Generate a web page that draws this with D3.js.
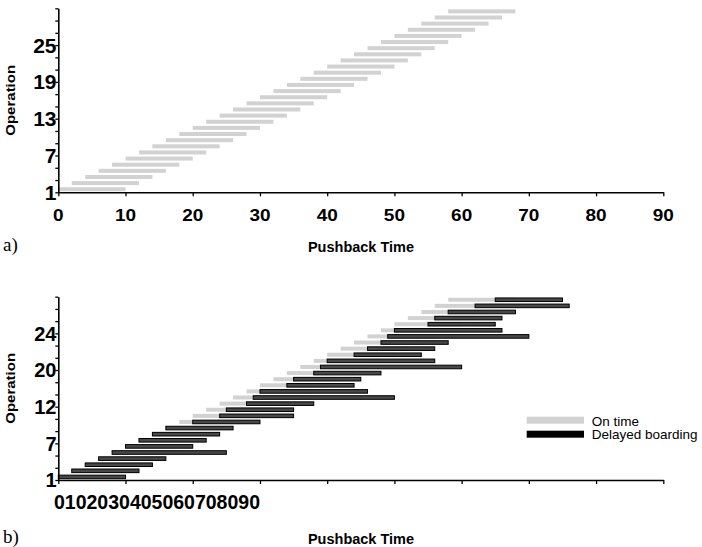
<!DOCTYPE html>
<html>
<head>
<meta charset="utf-8">
<script src="https://cdn.jsdelivr.net/npm/d3@7"></script>
<style>
  body { margin: 0; background: #fff; }
  svg { display: block; }
  text { font-family: "Liberation Sans", Arial, sans-serif; fill: #000; }
</style>
</head>
<body>
<div id="chart"></div>
<script>
// one row per pushback operation
var operations = [1,2,3,4,5,6,7,8,9,10,11,12,13,14,15,16,17,18,19,20,21,22,23,24,25,26,27,28,29,30];
var onTimeStart = [0,2,4,6,8,10,12,14,16,18,20,22,24,26,28,30,32,34,36,38,40,42,44,46,48,50,52,54,56,58];
var onTimeEnd = [10,12,14,16,18,20,22,24,26,28,30,32,34,36,38,40,42,44,46,48,50,52,54,56,58,60,62,64,66,68];
var delayedStart = [0,2,4,6,8,10,12,14,16,20,24,25,28,29,30,34,35,38,39,40,44,46,48,49,50,55,56,58,62,65];
var delayedEnd = [10,12,14,16,25,20,22,24,26,30,35,35,38,50,46,44,45,48,60,56,54,56,58,70,66,65,66,68,76,75];

var xTicks = [0,10,20,30,40,50,60,70,80,90];
var xTickLabels = ["0","10","20","30","40","50","60","70","80","90"];
var yTicks = [1,3,5,7,9,11,13,15,17,19,21,23,25,27,29,31];
var yLabelTicks = [1,7,13,19,25];
var yLabelsA = ["1","7","13","19","25"];
var yLabelsB = ["1","7","12","20","24"];
var legendLabels = ["On time","Delayed boarding"];

var width = 702, height = 547;
var svg = d3.select('#chart').append('svg').attr('width', width).attr('height', height);

var x = d3.scaleLinear().domain([0, 90]).range([58.3, 663.3]);

function panel(top, bottom, yLabels, withDelay, labelSize) {
    var y = d3.scaleLinear().domain([1, 31]).range([bottom, top]);
    var g = svg.append('g');

    // on time bars
    g.selectAll('rect.ontime').data(operations).enter().append('rect')
        .attr('class', 'ontime')
        .attr('x', function (d, i) { return x(onTimeStart[i]); })
        .attr('width', function (d, i) { return x(onTimeEnd[i]) - x(onTimeStart[i]); })
        .attr('y', function (d) { return y(d + 0.5) - 2; })
        .attr('height', 4)
        .style('fill', '#d2d2d2');

    if (withDelay) {
        g.selectAll('rect.delay').data(operations).enter().append('rect')
            .attr('class', 'delay')
            .attr('x', function (d, i) { return x(delayedStart[i]); })
            .attr('width', function (d, i) { return x(delayedEnd[i]) - x(delayedStart[i]); })
            .attr('y', function (d) { return y(d + 0.5) - 1.8; })
            .attr('height', 3.6)
            .style('fill', '#484848')
            .style('stroke', '#000')
            .style('stroke-width', 1);
    }

    var xa = g.append('g').attr('transform', 'translate(0,' + bottom + ')')
        .call(d3.axisBottom(x).tickValues(xTicks).tickSize(4).tickSizeOuter(0).tickFormat(''));
    var ya = g.append('g').attr('transform', 'translate(58.3,0)')
        .call(d3.axisLeft(y).tickValues(yTicks).tickSize(3).tickSizeOuter(0).tickFormat(''));
    [xa, ya].forEach(function (a) {
        a.select('.domain').style('stroke', '#000').style('stroke-width', 1.6);
        a.selectAll('.tick line').style('stroke', '#000').style('stroke-width', 1.3);
    });

    g.selectAll('text.ylab').data(yLabelTicks).enter().append('text')
        .attr('class', 'ylab')
        .attr('x', 56.5)
        .attr('y', function (d) { return y(d); })
        .attr('dy', '0.36em')
        .attr('text-anchor', 'end')
        .style('font-weight', 'bold')
        .style('font-size', labelSize + 'px')
        .text(function (d, i) { return yLabels[i]; });

    g.append('text')
        .attr('transform', 'translate(15,' + ((top + bottom) / 2) + ') rotate(-90) scale(1,0.8)')
        .attr('text-anchor', 'middle')
        .style('font-weight', 'bold')
        .style('font-size', '15px')
        .text('Operation');
    return g;
}

var ga = panel(8.3, 192.3, yLabelsA, false, 21);
var gb = panel(296.7, 480, yLabelsB, true, 20);

// panel a: spaced tick labels
ga.selectAll('text.xlab').data(xTicks).enter().append('text')
    .attr('class', 'xlab')
    .attr('transform', function (d) { return 'translate(' + x(d) + ',220.6) scale(1,0.84)'; })
    .attr('text-anchor', 'middle')
    .style('font-weight', 'bold')
    .style('font-size', '19px')
    .text(function (d, i) { return xTickLabels[i]; });

// panel b: tick labels run together
gb.append('text')
    .attr('x', 54)
    .attr('y', 508.5)
    .attr('textLength', 206)
    .style('font-weight', 'bold')
    .style('font-size', '19.5px')
    .text(xTickLabels.join(''));

[[ga, 252, 'a)'], [gb, 544, 'b)']].forEach(function (p) {
    p[0].append('text')
        .attr('x', 361).attr('y', p[1] - 0.5)
        .attr('text-anchor', 'middle')
        .style('font-weight', 'bold')
        .style('font-size', '14.5px')
        .text('Pushback Time');
    p[0].append('text')
        .attr('x', 3).attr('y', p[1] - 1)
        .style('font-family', '"Liberation Serif", "Times New Roman", serif')
        .style('font-size', '19px')
        .text(p[2]);
});

// legend
var leg = svg.append('g').attr('transform', 'translate(526.7,416.7)');
leg.selectAll('rect').data(legendLabels).enter().append('rect')
    .attr('x', 0).attr('y', function (d, i) { return i * 14; })
    .attr('width', 57.3).attr('height', 7)
    .style('fill', function (d, i) { return i == 0 ? '#d2d2d2' : '#000'; });
leg.selectAll('text').data(legendLabels).enter().append('text')
    .attr('x', 65).attr('y', function (d, i) { return 9.3 + i * 13.5; })
    .style('font-size', '13.5px')
    .text(function (d) { return d; });
</script>
</body>
</html>
